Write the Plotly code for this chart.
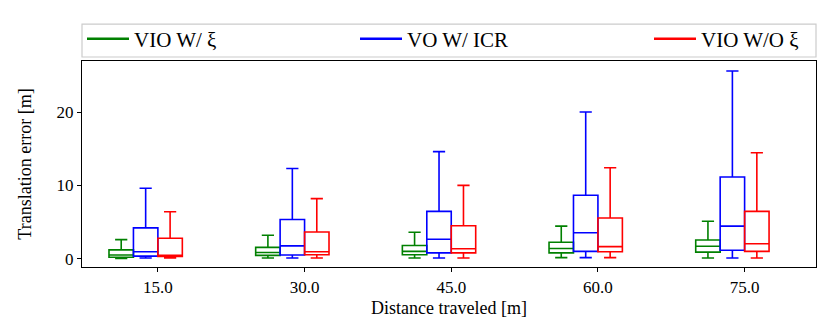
import plotly.graph_objs as go

distances = [15.0, 30.0, 45.0, 60.0, 75.0]
tick_labels = ["15.0", "30.0", "45.0", "60.0", "75.0"]

names = ["VIO W/ ξ", "VO W/ ICR", "VIO W/O ξ"]
colors = ["green", "blue", "red"]

# per series: lower whisker, q1, median, q3, upper whisker
vio_low = [0.05, 0.1, 0.1, 0.15, 0.1]
vio_q1 = [0.2, 0.45, 0.55, 0.8, 0.9]
vio_med = [0.5, 0.85, 1.0, 1.4, 1.7]
vio_q3 = [1.2, 1.55, 1.8, 2.25, 2.55]
vio_up = [2.6, 3.2, 3.6, 4.45, 5.1]

vo_low = [0.1, 0.1, 0.1, 0.15, 0.1]
vo_q1 = [0.35, 0.5, 0.8, 1.0, 1.15]
vo_med = [0.95, 1.75, 2.65, 3.55, 4.45]
vo_q3 = [4.2, 5.35, 6.45, 8.65, 11.15]
vo_up = [9.6, 12.3, 14.6, 20.0, 25.6]

nox_low = [0.1, 0.1, 0.1, 0.15, 0.1]
nox_q1 = [0.3, 0.55, 0.8, 0.95, 1.0]
nox_med = [0.45, 0.95, 1.35, 1.65, 2.05]
nox_q3 = [2.8, 3.65, 4.5, 5.55, 6.45]
nox_up = [6.4, 8.2, 10.0, 12.4, 14.45]

stats = [
    (vio_low, vio_q1, vio_med, vio_q3, vio_up),
    (vo_low, vo_q1, vo_med, vo_q3, vo_up),
    (nox_low, nox_q1, nox_med, nox_q3, nox_up),
]
offsets = [-3.75, -1.25, 1.25]

font = "Liberation Serif"
W, H = 830, 332
L, R, T, B = 74, 22, 52, 73
pw, ph = W - L - R, H - T - B

def px_x(p):
    return (p - L) / pw

def px_y(p):
    return (H - B - p) / ph

legend_ids = ["legend", "legend2", "legend3"]
legend_left = [74, 347, 641]

fig = go.Figure()
for i in range(3):
    low, q1, med, q3, up = stats[i]
    fig.add_trace(go.Box(
        x=[d + offsets[i] for d in distances],
        lowerfence=low, q1=q1, median=med, q3=q3, upperfence=up,
        width=2.5,
        whiskerwidth=0.5,
        line=dict(color=colors[i], width=1.6),
        fillcolor="rgba(0,0,0,0)",
        boxpoints=False,
        hoverinfo="skip",
        showlegend=False,
    ))
    # legend entry drawn as a line
    fig.add_trace(go.Scatter(
        x=[None], y=[None], mode="lines", name=names[i],
        line=dict(color=colors[i], width=2.5),
        legend=legend_ids[i],
    ))

legend_style = dict(
    orientation="h", xanchor="left", yanchor="middle", y=px_y(31),
    bgcolor="rgba(0,0,0,0)", borderwidth=0, itemwidth=42,
    font=dict(family=font, size=21),
)
fig.update_layout(
    legend=dict(x=px_x(legend_left[0]), **legend_style),
    legend2=dict(x=px_x(legend_left[1]), **legend_style),
    legend3=dict(x=px_x(legend_left[2]), **legend_style),
)

# legend frame
fig.add_shape(
    type="rect", xref="paper", yref="paper",
    x0=px_x(74), x1=px_x(808), y0=px_y(48), y1=px_y(15),
    line=dict(color="#cccccc", width=1.2), fillcolor="rgba(0,0,0,0)",
    layer="below",
)

fig.update_layout(
    width=W, height=H,
    margin=dict(l=L, r=R, t=T, b=B),
    plot_bgcolor="white", paper_bgcolor="white",
    boxmode="overlay",
    font=dict(family=font, size=17, color="black"),
    xaxis=dict(
        range=[7.24, 82.3],
        tickvals=distances, ticktext=tick_labels,
        ticks="outside", ticklen=4, tickcolor="black",
        showline=True, linecolor="black", linewidth=1.2, mirror=True,
        showgrid=False, zeroline=False, automargin=False,
        title=dict(text="Distance traveled [m]", standoff=5, font=dict(size=18)),
    ),
    yaxis=dict(
        range=[-1.13, 26.96],
        tickvals=[0, 10, 20],
        ticks="outside", ticklen=4, tickcolor="black",
        showline=True, linecolor="black", linewidth=1.2, mirror=True,
        showgrid=False, zeroline=False, automargin=False,
        title=dict(text="Translation error [m]", standoff=20, font=dict(size=18)),
    ),
)

fig.write_html("out.html")
